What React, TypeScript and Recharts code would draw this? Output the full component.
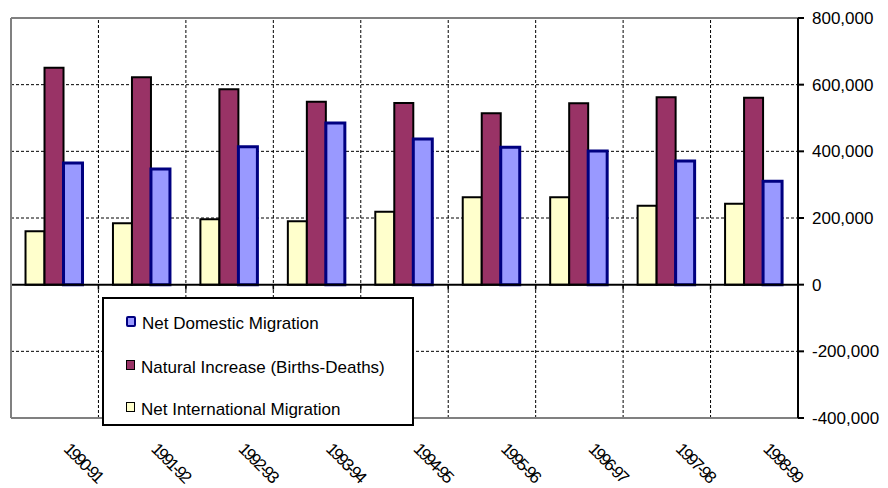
import React from 'react';
import { BarChart, Bar, XAxis, YAxis, CartesianGrid, ReferenceLine, Legend } from 'recharts';

const categories = ['1990-91', '1991-92', '1992-93', '1993-94', '1994-95', '1995-96', '1996-97', '1997-98', '1998-99'];
const netInternational = [160000, 184000, 196000, 190000, 219000, 262000, 262000, 237000, 243000];
const naturalIncrease = [651000, 622000, 586000, 549000, 545000, 514000, 544000, 562000, 561000];
const netDomestic = [365000, 347000, 414000, 485000, 437000, 412000, 401000, 371000, 310000];
const yTicks = [-400000, -200000, 0, 200000, 400000, 600000, 800000];
const gridValues = [-200000, 200000, 400000, 600000];

const data = categories.map((c, i) => ({
  category: c,
  intl: netInternational[i],
  natural: naturalIncrease[i],
  domestic: netDomestic[i],
}));

const series = [
  { key: 'intl', name: 'Net International Migration', fill: '#FFFFCC', stroke: '#000000', sw: 2 },
  { key: 'natural', name: 'Natural Increase (Births-Deaths)', fill: '#993366', stroke: '#000000', sw: 2 },
  { key: 'domestic', name: 'Net Domestic Migration', fill: '#9999FF', stroke: '#000080', sw: 3 },
];

const FONT = '"Liberation Sans", Arial, sans-serif';

const fmt = (v: number) => v.toLocaleString('en-US');

const XTick = (props: any) => {
  const { x, y, payload } = props;
  const tx = x + 8;
  const ty = y + 32;
  return (
    <text
      x={tx}
      y={ty}
      transform={`rotate(45 ${tx} ${ty})`}
      textAnchor="start"
      fontFamily={FONT}
      fontSize={17}
      letterSpacing={-2.2}
      fill="#000"
    >
      {payload.value}
    </text>
  );
};

const LegendContent = () => {
  const rows = [...series].reverse();
  const centers = [25, 69, 111];
  return (
    <div
      style={{
        width: 312,
        height: 129,
        boxSizing: 'border-box',
        border: '2px solid #000',
        background: '#fff',
        position: 'relative',
        fontFamily: FONT,
        fontSize: 17,
        color: '#000',
      }}
    >
      {rows.map((s, i) => (
        <div
          key={s.key}
          style={{
            position: 'absolute',
            left: 22,
            top: centers[i] - 12,
            height: 24,
            display: 'flex',
            alignItems: 'center',
            whiteSpace: 'nowrap',
          }}
        >
          <div
            style={{
              width: s.sw > 2 ? 6 : 7,
              height: s.sw > 2 ? 7 : 8,
              background: s.fill,
              border: `${s.sw > 2 ? 2 : 1.5}px solid ${s.stroke}`,
              borderRadius: s.sw > 2 ? 2 : 0,
              marginRight: 6,
              marginTop: -6,
            }}
          />
          <span>{s.name}</span>
        </div>
      ))}
    </div>
  );
};

export default function App() {
  const boundaries = categories.slice(1);
  return (
    <div style={{ position: 'absolute', left: 0, top: 0, width: 888, height: 488, background: '#fff' }}>
      <BarChart
        width={888}
        height={488}
        data={data}
        margin={{ top: 18, right: 0, bottom: 0, left: 11 }}
        barCategoryGap="16.6%"
        barGap={0}
      >
        <XAxis
          dataKey="category"
          height={70}
          axisLine={{ stroke: '#808080', strokeWidth: 2 }}
          tickLine={false}
          tickSize={0}
          tickMargin={0}
          interval={0}
          tick={<XTick />}
        />
        <YAxis
          orientation="right"
          width={90}
          domain={[-400000, 800000]}
          ticks={yTicks}
          tickFormatter={fmt}
          axisLine={{ stroke: '#000', strokeWidth: 2 }}
          tickLine={{ stroke: '#000', strokeWidth: 2 }}
          tickSize={6}
          tickMargin={8}
          tick={{ fill: '#000', fontSize: 17, fontFamily: FONT }}
          allowDataOverflow
        />
        <CartesianGrid
          stroke="#000"
          strokeWidth={1}
          strokeDasharray="3 2"
          vertical={false}
          horizontal
          horizontalValues={gridValues}
        />
        {boundaries.map((c) => (
          <ReferenceLine
            key={`v${c}`}
            x={c}
            position="start"
            stroke="#000"
            strokeWidth={1}
            strokeDasharray="3 2"
          />
        ))}
        {series.map((s) => (
          <Bar
            key={s.key}
            dataKey={s.key}
            name={s.name}
            fill={s.fill}
            stroke={s.stroke}
            strokeWidth={s.sw}
            isAnimationActive={false}
          />
        ))}
        <ReferenceLine y={0} stroke="#000" strokeWidth={2} />
        <ReferenceLine y={800000} stroke="#808080" strokeWidth={2} />
        <ReferenceLine x={categories[0]} position="start" stroke="#808080" strokeWidth={2} />
        {boundaries.map((c) => (
          <ReferenceLine
            key={`t${c}`}
            position="start"
            segment={[
              { x: c, y: 0 },
              { x: c, y: -15000 },
            ]}
            stroke="#000"
            strokeWidth={1.5}
          />
        ))}
        <Legend
          layout="vertical"
          align="center"
          verticalAlign="middle"
          content={<LegendContent />}
          wrapperStyle={{ position: 'absolute', left: 102, top: 297, width: 312, height: 129 }}
        />
      </BarChart>
    </div>
  );
}
